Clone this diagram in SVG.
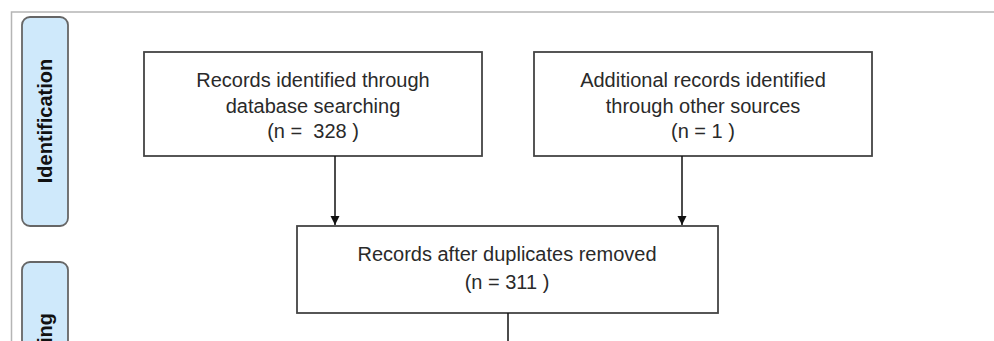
<svg xmlns="http://www.w3.org/2000/svg" width="994" height="341" viewBox="0 0 994 341">
<style>
.box{fill:#fff;stroke:#444;stroke-width:1.8}
.pill{fill:#cfe9fb;stroke:#666;stroke-width:1.8}
.t{font-family:"Liberation Sans",Arial,sans-serif;font-size:20px;fill:#2a2a2a;text-anchor:middle}
.lbl{font-family:"Liberation Sans",Arial,sans-serif;font-size:20px;font-weight:bold;fill:#111;text-anchor:middle}
.conn{stroke:#111;stroke-width:1.5;fill:none}
</style>
<defs>
<marker id="ah" viewBox="0 0 10 10" refX="10" refY="5" markerWidth="9" markerHeight="10" markerUnits="userSpaceOnUse" orient="auto">
<path d="M0,0 L10,5 L0,10 z" fill="#111"/>
</marker>
</defs>
<rect width="994" height="341" fill="#fff"/>
<path d="M11.5,341 V12 H994" fill="none" stroke="#b5b5b5" stroke-width="1.5"/>
<g id="phase-identification">
<rect class="pill" x="22" y="17" width="46" height="209" rx="8"/>
<text class="lbl" transform="translate(52,121) rotate(-90)">Identification</text>
</g>
<g id="phase-screening">
<rect class="pill" x="22" y="262" width="46" height="100" rx="8"/>
<text class="lbl" style="text-anchor:end" transform="translate(52,313) rotate(-90)">Screening</text>
</g>
<g id="node-database">
<rect class="box" x="144" y="52" width="338" height="104"/>
<text class="t" x="313" y="87">Records identified through</text>
<text class="t" x="313" y="113">database searching</text>
<text class="t" x="313" y="138" xml:space="preserve">(n =  328 )</text>
</g>
<g id="node-other">
<rect class="box" x="534" y="52" width="338" height="104"/>
<text class="t" x="703" y="87">Additional records identified</text>
<text class="t" x="703" y="113">through other sources</text>
<text class="t" x="703" y="138">(n = 1 )</text>
</g>
<g id="node-duplicates">
<rect class="box" x="297" y="226" width="421" height="87"/>
<text class="t" x="507" y="261">Records after duplicates removed</text>
<text class="t" x="507" y="289">(n = 311 )</text>
</g>
<g id="connectors">
<line class="conn" x1="335" y1="156" x2="335" y2="225" marker-end="url(#ah)"/>
<line class="conn" x1="682" y1="156" x2="682" y2="225" marker-end="url(#ah)"/>
<line class="conn" x1="508" y1="313" x2="508" y2="341"/>
</g>
</svg>
